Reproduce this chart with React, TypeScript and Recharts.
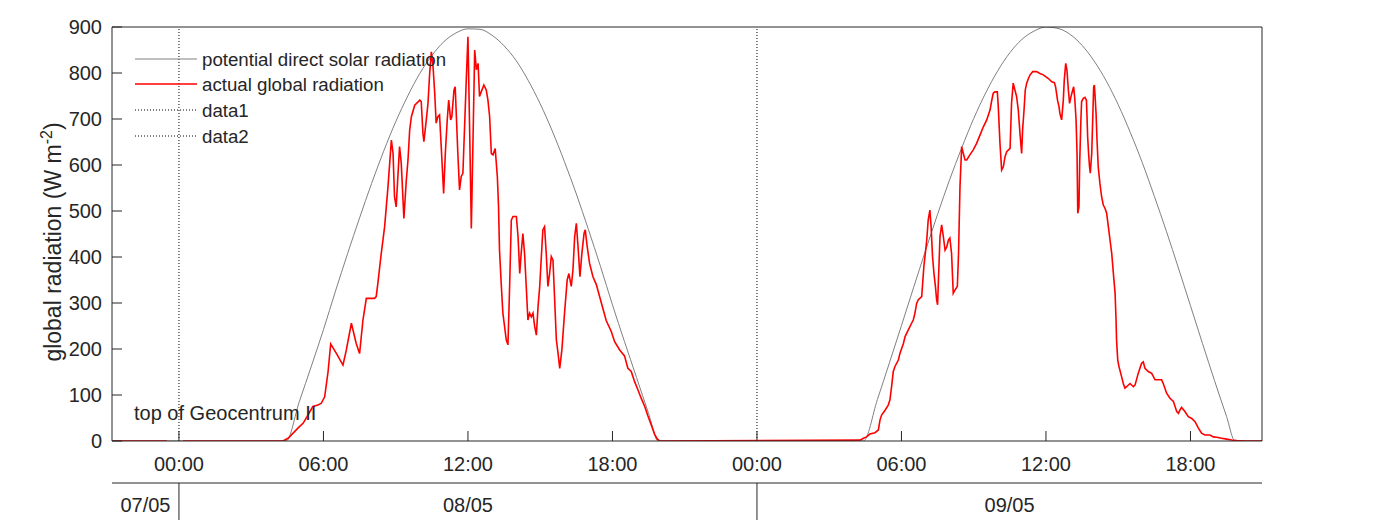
import React from 'react';
import { LineChart, Line, XAxis, YAxis, ReferenceLine, Legend } from 'recharts';

// ---------- data (hours from 08/05 00:00) ----------
const X_MIN = -2.78;
const X_MAX = 44.97;

const yTicks = [0, 100, 200, 300, 400, 500, 600, 700, 800, 900];
const timeTicks = [0, 6, 12, 18, 24, 30, 36, 42];
const timeTickLabels = ['00:00', '06:00', '12:00', '18:00', '00:00', '06:00', '12:00', '18:00'];
const dayBoundaries = [0, 24];
const dateLabelHours = [-1.39, 12, 34.49];
const dateLabels = ['07/05', '08/05', '09/05'];
const legendLabels = ['potential direct solar radiation', 'actual global radiation', 'data1', 'data2'];
const annotationText = 'top of Geocentrum II';

const potentialHours = [
  -2.78, 4.45, 5.0, 5.5, 6.0, 6.5, 7.0, 7.5, 8.0, 8.5, 9.0, 9.5, 10.0, 10.5, 11.0, 11.5, 12.0, 12.5,
  13.0, 13.5, 14.0, 14.5, 15.0, 15.5, 16.0, 16.5, 17.0, 17.5, 18.0, 18.5, 19.0, 19.5, 19.9,
  28.42, 29.0, 29.5, 30.0, 30.5, 31.0, 31.5, 32.0, 32.5, 33.0, 33.5, 34.0, 34.5, 35.0, 35.5, 36.0,
  36.5, 37.0, 37.5, 38.0, 38.5, 39.0, 39.5, 40.0, 40.5, 41.0, 41.5, 42.0, 42.5, 43.0, 43.5, 43.85, 44.97,
];
const potentialValues = [
  0, 0, 86, 163, 242, 326, 407, 485, 560, 630, 694, 750, 799, 838, 868, 887, 896, 895,
  882, 859, 827, 784, 733, 674, 608, 537, 460, 380, 296, 216, 138, 60, 0,
  0, 90, 170, 251, 333, 414, 493, 568, 637, 701, 757, 805, 844, 873, 891, 900,
  897, 884, 860, 826, 783, 731, 671, 605, 532, 456, 376, 294, 212, 131, 53, 0, 0,
];

const actualHours = [
  -2.78, -0.5, -0.3, 0.17, 4.32, 4.53, 4.94, 5.16, 5.36, 5.56, 5.77, 5.91, 6.05, 6.19, 6.3, 6.53, 6.81,
  6.95, 7.16, 7.36, 7.5, 7.64, 7.78, 8.12, 8.19, 8.26, 8.4, 8.54, 8.68, 8.82, 8.89, 8.95, 9.02,
  9.09, 9.16, 9.23, 9.34, 9.44, 9.51, 9.58, 9.65, 9.79, 10.0, 10.06, 10.13, 10.17, 10.27, 10.34,
  10.41, 10.48, 10.55, 10.62, 10.68, 10.75, 10.82, 10.89, 10.99, 11.06, 11.14, 11.2, 11.28, 11.33,
  11.42, 11.47, 11.58, 11.65, 11.72, 11.79, 11.86, 11.93, 12.0, 12.07, 12.14, 12.28, 12.35, 12.42,
  12.48, 12.55, 12.66, 12.76, 12.83, 12.9, 12.97, 13.04, 13.13, 13.22, 13.27, 13.31, 13.38, 13.45,
  13.52, 13.59, 13.66, 13.73, 13.8, 13.87, 14.01, 14.08, 14.15, 14.21, 14.28, 14.35, 14.42, 14.49,
  14.56, 14.63, 14.7, 14.77, 14.84, 14.91, 14.98, 15.04, 15.11, 15.18, 15.25, 15.32, 15.39, 15.46,
  15.53, 15.6, 15.67, 15.74, 15.81, 15.9, 16.01, 16.12, 16.19, 16.29, 16.36, 16.43, 16.5, 16.57,
  16.65, 16.73, 16.82, 16.87, 16.95, 17.05, 17.19, 17.33, 17.54, 17.74, 17.95, 18.09, 18.3, 18.5,
  18.64, 18.78, 18.92, 19.06, 19.2, 19.34, 19.47, 19.61, 19.75, 19.85, 19.96,
  28.28, 28.42, 28.55, 28.69, 28.9, 29.04, 29.11, 29.18, 29.32, 29.45, 29.52, 29.59, 29.66, 29.73,
  29.87, 29.94, 30.08, 30.15, 30.28, 30.42, 30.49, 30.56, 30.63, 30.7, 30.84, 30.88, 30.93, 30.99,
  31.05, 31.11, 31.18, 31.23, 31.29, 31.35, 31.41, 31.46, 31.5, 31.54, 31.6, 31.67, 31.74, 31.81,
  31.88, 31.95, 32.01, 32.08, 32.15, 32.22, 32.32, 32.37, 32.43, 32.5, 32.57, 32.64, 32.71, 32.84,
  32.98, 33.12, 33.26, 33.4, 33.54, 33.68, 33.74, 33.81, 33.88, 33.98, 34.02, 34.09, 34.16, 34.23,
  34.3, 34.37, 34.51, 34.57, 34.64, 34.71, 34.78, 34.85, 34.92, 34.99, 35.03, 35.09, 35.14, 35.2,
  35.27, 35.34, 35.45, 35.61, 35.75, 35.89, 36.1, 36.24, 36.35, 36.4, 36.48, 36.54, 36.58, 36.65,
  36.72, 36.76, 36.82, 36.87, 36.93, 36.98, 37.04, 37.11, 37.15, 37.2, 37.25, 37.29, 37.32, 37.37,
  37.4, 37.45, 37.48, 37.55, 37.62, 37.68, 37.7, 37.73, 37.77, 37.81, 37.84, 37.9, 37.94, 37.98,
  38.01, 38.04, 38.08, 38.12, 38.17, 38.24, 38.31, 38.38, 38.45, 38.52, 38.59, 38.66, 38.73, 38.8,
  38.87, 38.91, 38.93, 38.98, 39.03, 39.14, 39.21, 39.28, 39.35, 39.49, 39.63, 39.7, 39.83, 39.97,
  40.04, 40.11, 40.25, 40.39, 40.53, 40.8, 40.87, 41.01, 41.15, 41.29, 41.36, 41.43, 41.5, 41.56,
  41.63, 41.77, 41.91, 42.05, 42.19, 42.33, 42.46, 42.6, 42.81, 42.95, 43.09, 43.29, 43.5, 43.71,
  43.92, 44.26, 44.97,
];
const actualValues = [
  0, 0, null, 0, 0, 6, 28, 39, 57, 75, 78, 82, 96, 150, 211, 191, 165,
  198, 256, 212, 190, 263, 310, 310, 314, 343, 408, 466, 553, 654, 625, 531, 509,
  575, 640, 604, 484, 567, 611, 676, 705, 730, 741, 738, 669, 651, 698, 734,
  799, 846, 814, 756, 691, 705, 709, 640, 538, 625, 698, 741, 698, 705,
  763, 770, 625, 546, 575, 582, 683, 785, 879, 676, 462, 850, 807, 821,
  749, 759, 774, 763, 741, 705, 625, 622, 636, 575, 509, 415, 343, 278,
  249, 220, 209, 336, 480, 488, 488, 444, 364, 408, 451, 408, 336, 263,
  278, 270, 278, 249, 230, 292, 336, 394, 459, 466, 408, 336, 364, 401,
  393, 307, 220, 191, 158, 198, 278, 350, 364, 336, 372, 444, 473, 423,
  357, 408, 451, 459, 423, 386, 357, 340, 300, 262, 238, 216, 198, 185,
  158, 151, 129, 111, 92, 75, 55, 35, 15, 5, 0,
  2, 6, 9, 15, 18, 24, 46, 57, 67, 78, 89, 118, 151, 162,
  176, 191, 212, 227, 241, 256, 263, 278, 299, 307, 314, 343, 379, 408,
  437, 480, 502, 466, 401, 364, 336, 307, 296, 357, 444, 470, 444, 415,
  422, 437, 441, 408, 321, 328, 336, 408, 553, 640, 625, 611, 611, 622,
  633, 647, 665, 683, 698, 720, 738, 756, 759, 759, 727, 647, 589, 596,
  618, 629, 636, 734, 778, 763, 749, 720, 669, 625, 676, 720, 763, 778,
  788, 796, 803, 803, 799, 796, 788, 781, 779, 770, 741, 727, 712, 698,
  741, 785, 821, 807, 763, 734, 749, 763, 770, 741, 698, 625, 495, 509,
  604, 698, 738, 745, 747, 741, 712, 662, 625, 596, 582, 625, 698, 770,
  774, 749, 712, 654, 596, 560, 531, 513, 506, 495, 466, 437, 408, 364,
  321, 263, 220, 176, 162, 140, 125, 115, 118, 125, 118, 122, 147, 169,
  172, 158, 151, 147, 133, 133, 125, 104, 93, 86, 75, 64, 60, 67,
  73, 64, 53, 49, 42, 28, 17, 13, 13, 9, 8, 6, 4, 2,
  1, 0, 0,
];

const potentialData = potentialHours.map((t, i) => ({ t, v: potentialValues[i] }));
const actualData = actualHours.map((t, i) => ({ t, v: actualValues[i] }));
const dateAxisTicks = [...dateLabelHours, ...dayBoundaries].sort((a, b) => a - b);

// ---------- styling ----------
const FONT = '"Liberation Sans", Arial, Helvetica, sans-serif';
const INK = '#262626';
const GRAY = '#808080';
const RED = '#ff0000';

const DateTick = (props: any) => {
  const { x, y, payload } = props;
  const v = payload.value;
  if (dayBoundaries.indexOf(v) >= 0) {
    return <line x1={x} x2={x} y1={y} y2={y + 40} stroke={INK} strokeWidth={1} />;
  }
  const idx = dateLabelHours.indexOf(v);
  return (
    <text x={x} y={y + 29} textAnchor="middle" fontFamily={FONT} fontSize={20} fill={INK}>
      {dateLabels[idx]}
    </text>
  );
};

const YLabel = (props: any) => {
  const vb = props && props.viewBox ? props.viewBox : { x: 0, y: 27, width: 112, height: 414 };
  const cx = vb.x + 61;
  const cy = vb.y + vb.height / 2 + 8;
  return (
    <text
      x={cx}
      y={cy}
      transform={`rotate(-90 ${cx} ${cy})`}
      textAnchor="middle"
      fontFamily={FONT}
      fontSize={23}
      fill={INK}
    >
      global radiation (W m
      <tspan dy={-9} fontSize={16}>-2</tspan>
      <tspan dy={9}>)</tspan>
    </text>
  );
};

const LegendContent = () => {
  const styles = [
    { stroke: GRAY, dash: undefined as string | undefined, w: 1 },
    { stroke: RED, dash: undefined as string | undefined, w: 1.5 },
    { stroke: '#000', dash: '1 2', w: 1 },
    { stroke: '#000', dash: '1 2', w: 1 },
  ];
  return (
    <div style={{ fontFamily: FONT, fontSize: 18.7, color: INK }}>
      {legendLabels.map((name, i) => (
        <div key={name} style={{ display: 'flex', alignItems: 'center', height: 25.6 }}>
          <svg width={62} height={4} style={{ marginRight: 5, display: 'block' }}>
            <line x1={0} x2={62} y1={2} y2={2} stroke={styles[i].stroke} strokeWidth={styles[i].w} strokeDasharray={styles[i].dash} />
          </svg>
          <span style={{ lineHeight: '20px', whiteSpace: 'nowrap', position: 'relative', top: 1 }}>{name}</span>
        </div>
      ))}
    </div>
  );
};

const tickStyle = { fontFamily: FONT, fontSize: 20, fill: INK };

export default function App() {
  return (
    <div style={{ position: 'absolute', left: 0, top: 0, width: 1388, height: 520, background: '#fff' }}>
      <LineChart width={1388} height={520} margin={{ top: 26, right: 125, bottom: 0, left: 0 }}>
        <XAxis
          xAxisId="a1"
          type="number"
          dataKey="t"
          domain={[X_MIN, X_MAX]}
          allowDataOverflow
          ticks={timeTicks}
          interval={0}
          tickFormatter={(_v: number, i: number) => timeTickLabels[i]}
          orientation="bottom"
          height={42}
          tickSize={-10}
          tickMargin={26}
          stroke={INK}
          tick={tickStyle}
        />
        <XAxis
          xAxisId="a2"
          type="number"
          dataKey="t"
          domain={[X_MIN, X_MAX]}
          allowDataOverflow
          ticks={dateAxisTicks}
          interval={0}
          orientation="bottom"
          height={37}
          tickLine={false}
          tickSize={0}
          tickMargin={0}
          stroke={INK}
          tick={<DateTick />}
        />
        <XAxis
          xAxisId="a3"
          type="number"
          dataKey="t"
          domain={[X_MIN, X_MAX]}
          allowDataOverflow
          ticks={timeTicks}
          interval={0}
          orientation="top"
          height={1}
          tickSize={-10}
          tick={false}
          stroke={INK}
        />
        <YAxis
          yAxisId="left"
          type="number"
          domain={[0, 900]}
          allowDataOverflow
          ticks={yTicks}
          interval={0}
          width={112}
          tickSize={-10}
          tickMargin={20}
          stroke={INK}
          tick={tickStyle}
          label={<YLabel />}
        />
        <YAxis
          yAxisId="right"
          orientation="right"
          type="number"
          domain={[0, 900]}
          allowDataOverflow
          ticks={yTicks}
          interval={0}
          width={1}
          tickSize={-10}
          tick={false}
          stroke={INK}
        />
        {dayBoundaries.map((b) => (
          <ReferenceLine key={b} x={b} xAxisId="a1" yAxisId="left" stroke="#000" strokeWidth={1} strokeDasharray="1 2" />
        ))}
        <Line
          data={potentialData}
          dataKey="v"
          xAxisId="a1"
          yAxisId="left"
          type="monotone"
          stroke={GRAY}
          strokeWidth={1}
          dot={false}
          activeDot={false}
          isAnimationActive={false}
        />
        <Line
          data={actualData}
          dataKey="v"
          xAxisId="a1"
          yAxisId="left"
          type="linear"
          stroke={RED}
          strokeWidth={1.6}
          dot={false}
          activeDot={false}
          connectNulls={false}
          isAnimationActive={false}
        />
        <Legend
          layout="vertical"
          align="center"
          verticalAlign="middle"
          content={<LegendContent />}
          wrapperStyle={{ position: 'absolute', left: 135, top: 46, width: 330, height: 103, margin: 0, padding: 0 }}
        />
      </LineChart>
      <div
        style={{
          position: 'absolute',
          left: 134,
          top: 403,
          fontFamily: FONT,
          fontSize: 20,
          lineHeight: '20px',
          color: INK,
          whiteSpace: 'nowrap',
        }}
      >
        {annotationText}
      </div>
    </div>
  );
}
